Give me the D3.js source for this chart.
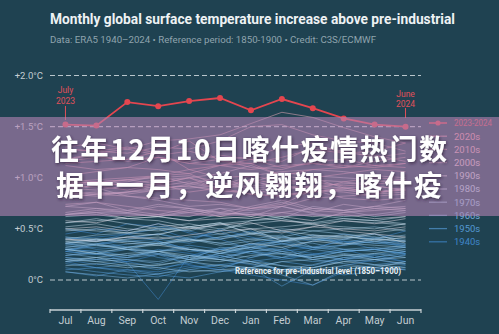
<!DOCTYPE html>
<html><head><meta charset="utf-8">
<script src="https://cdn.jsdelivr.net/npm/d3@7"></script>
<style>
html,body{margin:0;padding:0;background:#1f4251;}
svg{display:block;}
</style></head>
<body>
<svg id="chart" width="499" height="334"></svg>
<script>
// ---------- DATA ----------
const months = ["Jul","Aug","Sep","Oct","Nov","Dec","Jan","Feb","Mar","Apr","May","Jun"];
const yTicks = [0, 0.5, 1.0, 1.5, 2.0];
const yTickLabels = ["0°C","+0.5°C","+1.0°C","+1.5°C","+2.0°C"];
const dashedLevels = [0, 1.5, 2.0];
const decades = ["1940s","1950s","1960s","1970s","1980s","1990s","2000s","2010s","2020s"];

// July–June periods, °C above 1850–1900 (estimated)
const d1940s = [
 [0.42,0.38,0.45,0.50,0.40,0.48,0.35,0.42,0.38,0.45,0.40,0.48],
 [0.50,0.45,0.55,0.52,0.48,0.40,0.30,0.38,0.42,0.35,0.40,0.33],
 [0.30,0.28,0.17,-0.19,0.24,0.30,0.35,0.28,0.32,0.38,0.30,0.26],
 [0.28,0.35,0.40,0.45,0.38,0.50,0.42,0.36,0.30,0.40,0.45,0.38],
 [0.45,0.50,0.48,0.55,0.46,0.40,0.48,0.38,0.44,0.36,0.42,0.35],
 [0.40,0.42,0.45,0.38,0.30,0.22,0.28,0.20,0.25,0.30,0.22,0.18],
 [0.22,0.20,0.18,0.25,0.15,0.10,0.22,0.30,0.26,0.20,0.18,0.25],
 [0.28,0.25,0.22,0.30,0.26,0.20,0.15,0.10,0.12,0.20,0.24,0.18],
 [0.20,0.15,0.18,0.12,0.16,0.24,0.18,0.10,0.05,0.14,0.20,0.15],
 [0.18,0.12,0.10,0.08,0.14,0.10,0.05,0.00,-0.05,0.08,0.12,0.10]
];
const d1950s = [
 [0.12,0.08,0.05,0.03,0.10,0.15,0.12,0.18,0.14,0.22,0.25,0.28],
 [0.30,0.32,0.35,0.38,0.30,0.26,0.28,0.25,0.22,0.28,0.30,0.25],
 [0.28,0.25,0.30,0.22,0.18,0.26,0.32,0.35,0.30,0.34,0.38,0.32],
 [0.35,0.38,0.32,0.36,0.28,0.30,0.26,0.22,0.18,0.20,0.15,0.18],
 [0.16,0.12,0.15,0.10,0.18,0.12,0.20,0.14,0.08,0.12,0.10,0.14],
 [0.10,0.12,0.08,0.05,0.02,0.08,0.12,-0.06,0.10,0.05,0.08,0.12],
 [0.08,0.04,0.10,0.06,0.12,0.15,0.18,0.22,0.25,0.28,0.30,0.32],
 [0.32,0.35,0.38,0.40,0.36,0.42,0.45,0.48,0.40,0.38,0.36,0.34],
 [0.36,0.30,0.32,0.28,0.34,0.30,0.35,0.38,0.32,0.28,0.30,0.26],
 [0.30,0.28,0.24,0.26,0.22,0.30,0.28,0.32,0.20,0.24,0.22,0.26]
];
const d1960s = [
 [0.24,0.28,0.30,0.26,0.20,0.32,0.30,0.36,0.32,0.34,0.38,0.35],
 [0.34,0.36,0.30,0.28,0.32,0.26,0.34,0.38,0.36,0.30,0.32,0.28],
 [0.30,0.34,0.32,0.36,0.30,0.28,0.32,0.26,0.22,0.28,0.30,0.34],
 [0.36,0.40,0.42,0.45,0.40,0.36,0.32,0.28,0.20,0.16,0.12,0.10],
 [0.08,0.05,0.02,0.06,0.10,0.08,0.12,0.05,-0.05,0.10,0.14,0.16],
 [0.18,0.20,0.22,0.25,0.20,0.26,0.22,0.28,0.24,0.20,0.26,0.22],
 [0.26,0.22,0.20,0.18,0.24,0.20,0.28,0.22,0.30,0.26,0.22,0.28],
 [0.24,0.26,0.22,0.28,0.20,0.24,0.18,0.10,0.15,0.22,0.20,0.24],
 [0.22,0.18,0.20,0.16,0.24,0.22,0.28,0.30,0.38,0.40,0.36,0.38],
 [0.36,0.40,0.38,0.35,0.42,0.45,0.40,0.44,0.32,0.30,0.28,0.32]
];
const d1970s = [
 [0.30,0.26,0.24,0.28,0.22,0.20,0.18,0.14,0.12,0.18,0.15,0.12],
 [0.14,0.16,0.12,0.15,0.18,0.14,0.12,0.18,0.20,0.24,0.26,0.30],
 [0.32,0.35,0.30,0.36,0.38,0.42,0.46,0.50,0.48,0.45,0.42,0.40],
 [0.38,0.34,0.30,0.28,0.24,0.20,0.16,0.10,0.12,0.18,0.20,0.16],
 [0.18,0.22,0.16,0.14,0.20,0.18,0.24,0.26,0.22,0.25,0.20,0.22],
 [0.20,0.18,0.14,0.12,0.08,0.10,0.12,0.08,0.10,0.14,0.12,0.18],
 [0.20,0.22,0.26,0.28,0.30,0.26,0.32,0.38,0.40,0.42,0.40,0.44],
 [0.42,0.40,0.38,0.36,0.40,0.34,0.38,0.42,0.40,0.36,0.34,0.32],
 [0.30,0.26,0.32,0.34,0.40,0.36,0.40,0.38,0.44,0.42,0.40,0.38],
 [0.40,0.44,0.46,0.50,0.48,0.55,0.46,0.42,0.48,0.50,0.52,0.48]
];
const d1980s = [
 [0.50,0.48,0.46,0.44,0.52,0.48,0.58,0.60,0.54,0.52,0.50,0.55],
 [0.52,0.55,0.50,0.48,0.52,0.56,0.45,0.40,0.42,0.44,0.38,0.42],
 [0.40,0.38,0.42,0.45,0.50,0.55,0.58,0.62,0.64,0.60,0.58,0.55],
 [0.56,0.60,0.55,0.50,0.52,0.45,0.50,0.38,0.42,0.40,0.45,0.36],
 [0.38,0.40,0.36,0.34,0.30,0.28,0.36,0.32,0.38,0.35,0.40,0.38],
 [0.36,0.38,0.40,0.42,0.38,0.40,0.45,0.48,0.44,0.42,0.46,0.50],
 [0.48,0.50,0.46,0.52,0.55,0.50,0.55,0.58,0.56,0.60,0.58,0.62],
 [0.64,0.66,0.65,0.62,0.66,0.70,0.68,0.72,0.65,0.62,0.64,0.68],
 [0.62,0.64,0.60,0.58,0.52,0.56,0.50,0.52,0.55,0.58,0.56,0.54],
 [0.56,0.58,0.60,0.62,0.58,0.64,0.66,0.60,0.72,0.68,0.62,0.66]
];
const d1990s = [
 [0.64,0.68,0.66,0.72,0.70,0.66,0.64,0.62,0.58,0.66,0.68,0.70],
 [0.72,0.70,0.66,0.62,0.58,0.60,0.62,0.58,0.55,0.48,0.45,0.42],
 [0.40,0.38,0.42,0.40,0.44,0.48,0.50,0.46,0.52,0.50,0.48,0.52],
 [0.50,0.52,0.48,0.55,0.50,0.54,0.56,0.48,0.52,0.58,0.55,0.60],
 [0.58,0.56,0.62,0.64,0.70,0.66,0.72,0.78,0.70,0.68,0.72,0.70],
 [0.72,0.76,0.68,0.74,0.70,0.62,0.60,0.66,0.62,0.64,0.60,0.62],
 [0.64,0.66,0.60,0.62,0.68,0.65,0.64,0.66,0.70,0.68,0.72,0.78],
 [0.80,0.84,0.86,0.88,0.90,0.92,0.95,1.05,1.02,1.00,0.98,0.94],
 [0.92,0.90,0.82,0.78,0.72,0.74,0.70,0.76,0.68,0.66,0.70,0.68],
 [0.66,0.70,0.68,0.64,0.62,0.70,0.62,0.72,0.66,0.74,0.70,0.72]
];
const d2000s = [
 [0.74,0.76,0.72,0.68,0.66,0.62,0.70,0.72,0.80,0.82,0.84,0.86],
 [0.84,0.86,0.84,0.88,0.94,0.90,0.92,0.94,1.00,0.90,0.92,0.88],
 [0.90,0.88,0.92,0.90,0.92,0.88,0.96,0.92,0.90,0.88,0.86,0.90],
 [0.92,0.94,0.96,1.02,0.94,1.00,0.90,0.92,0.88,0.86,0.82,0.84],
 [0.82,0.84,0.86,0.92,0.96,0.90,0.98,0.88,0.92,0.94,0.96,0.98],
 [0.96,0.94,0.98,1.00,1.02,0.96,0.88,0.90,0.92,0.90,0.86,0.88],
 [0.90,0.92,0.94,0.98,1.00,1.04,1.12,1.02,0.98,0.96,0.92,0.88],
 [0.86,0.84,0.82,0.80,0.78,0.76,0.70,0.74,0.88,0.80,0.78,0.80],
 [0.84,0.82,0.86,0.90,0.92,0.86,0.88,0.84,0.86,0.88,0.84,0.90],
 [0.94,0.96,0.98,0.94,1.00,0.92,1.02,1.06,1.08,1.06,1.02,1.00]
];
const d2010s = [
 [0.98,0.96,0.92,0.94,1.00,0.88,0.84,0.82,0.86,0.90,0.86,0.88],
 [0.90,0.92,0.88,0.94,0.86,0.90,0.84,0.82,0.88,0.96,1.00,0.98],
 [0.96,0.98,1.00,1.02,1.04,0.92,0.98,0.94,0.96,0.92,0.94,0.96],
 [0.94,0.96,0.98,1.02,1.08,1.00,1.02,0.96,1.00,1.04,1.08,1.06],
 [1.02,1.06,1.10,1.08,1.04,1.12,1.08,1.12,1.14,1.10,1.16,1.20],
 [1.18,1.24,1.28,1.36,1.38,1.42,1.53,1.64,1.59,1.49,1.40,1.34],
 [1.30,1.34,1.28,1.22,1.26,1.18,1.20,1.30,1.34,1.24,1.22,1.16],
 [1.18,1.22,1.16,1.20,1.14,1.18,1.10,1.08,1.16,1.18,1.12,1.14],
 [1.12,1.08,1.10,1.20,1.16,1.22,1.18,1.16,1.30,1.26,1.20,1.24],
 [1.28,1.26,1.24,1.30,1.28,1.36,1.50,1.52,1.42,1.36,1.34,1.26]
];
const d2020s = [
 [1.28,1.26,1.30,1.24,1.36,1.16,1.14,1.02,1.08,1.10,1.12,1.10],
 [1.14,1.16,1.18,1.20,1.14,1.12,1.18,1.10,1.14,1.12,1.10,1.14],
 [1.16,1.20,1.18,1.26,1.08,1.12,1.14,1.20,1.28,1.24,1.26,1.34]
];
const recent = [1.52,1.51,1.74,1.70,1.75,1.78,1.66,1.77,1.68,1.58,1.52,1.50];
const recentLabel = "2023-2024";

const title = "Monthly global surface temperature increase above pre-industrial";
const subtitle = "Data: ERA5 1940–2024 • Reference period: 1850-1900 • Credit: C3S/ECMWF";
const refNote = "Reference for pre-industrial level (1850–1900)";
const overlayLines = ["往年12月10日喀什疫情热门数", "据十一月，逆风翱翔，喀什疫"];

// ---------- DRAW ----------
const decadeData = [d1940s,d1950s,d1960s,d1970s,d1980s,d1990s,d2000s,d2010s,d2020s];
const decadeColors = ["#3f86c9","#5499d2","#75aed9","#98c3e0","#bcd3e2","#d6d0dc","#e2bfcc","#e9a9b8","#ef97a7"];

const svg = d3.select("#chart");
svg.append("rect").attr("width",499).attr("height",334).attr("fill","#1f4251");

const x = d3.scaleBand().domain(months).range([50,421]).padding(0);
const y = d3.scaleLinear().domain([0,2]).range([280,75.5]);
const cx = m => x(m) + x.bandwidth()/2;

// Title
svg.append("text").attr("x",50).attr("y",24).text(title)
  .attr("font-family","Roboto, 'Open Sans', sans-serif").attr("font-weight",700)
  .attr("font-size",15).attr("fill","#eef2f4")
  .attr("textLength",405).attr("lengthAdjust","spacingAndGlyphs");
svg.append("text").attr("x",50).attr("y",42.5).text(subtitle)
  .attr("font-family","Roboto, sans-serif").attr("font-size",9.5).attr("fill","#8fa4ae")
  .attr("textLength",326).attr("lengthAdjust","spacingAndGlyphs");

// Y labels
svg.append("g").selectAll("text").data(yTicks).join("text")
  .attr("x",43).attr("y",d=>y(d)+3.4).attr("text-anchor","end")
  .attr("font-family","Roboto, sans-serif").attr("font-size",9.5).attr("fill","#c3cdd2")
  .text((d,i)=>yTickLabels[i]);

// Dashed lines
svg.append("g").selectAll("line").data(dashedLevels).join("line")
  .attr("x1",50).attr("x2",421).attr("y1",d=>y(d)).attr("y2",d=>y(d))
  .attr("stroke","#b9c6cc").attr("stroke-width",1.1).attr("stroke-dasharray","5,3");

// Historical lines
const line = d3.line().x((d,i)=>cx(months[i])).y(d=>y(d));
const gl = svg.append("g");
decadeData.forEach((dec,k)=>{
  gl.selectAll(null).data(dec).join("path")
    .attr("d",line).attr("fill","none")
    .attr("stroke",decadeColors[k]).attr("stroke-width",0.9).attr("stroke-opacity",0.6);
});

// Reference note
svg.append("text").attr("x",401).attr("y",274).attr("text-anchor","end").text(refNote)
  .attr("font-family","Roboto, sans-serif").attr("font-weight",700).attr("font-size",8.8)
  .attr("fill","#e8eef1").attr("textLength",166).attr("lengthAdjust","spacingAndGlyphs");

// Recent line
const red = "#e4464f";
svg.append("path").datum(recent).attr("d",line).attr("fill","none")
  .attr("stroke",red).attr("stroke-width",1.8);
svg.append("g").selectAll("circle").data(recent).join("circle")
  .attr("cx",(d,i)=>cx(months[i])).attr("cy",d=>y(d)).attr("r",3).attr("fill",red);

// Annotations
const ann = [{i:0, l1:"July", l2:"2023", t1:90, t2:101, a:106, b:120},
             {i:11, l1:"June", l2:"2024", t1:94, t2:104, a:108, b:118}];
ann.forEach(a=>{
  const xx = cx(months[a.i]);
  [[a.l1,a.t1],[a.l2,a.t2]].forEach(([t,yy])=>{
    svg.append("text").attr("x",xx).attr("y",yy+3).attr("text-anchor","middle").text(t)
      .attr("font-family","Roboto, sans-serif").attr("font-size",8.5).attr("fill","#e0505a");
  });
  svg.append("line").attr("x1",xx).attr("x2",xx).attr("y1",a.a).attr("y2",a.b)
    .attr("stroke","#e0505a").attr("stroke-width",1);
});

// X axis
const axis = svg.append("g").attr("transform","translate(0,310)");
axis.append("line").attr("x1",50).attr("x2",421).attr("stroke","#c9d2d6").attr("stroke-width",1.4);
axis.selectAll("line.tk").data(d3.range(13)).join("line").attr("class","tk")
  .attr("x1",i=>i<12?x(months[i]):x(months[11])+x.bandwidth())
  .attr("x2",i=>i<12?x(months[i]):x(months[11])+x.bandwidth())
  .attr("y1",-1).attr("y2",3).attr("stroke","#c9d2d6").attr("stroke-width",1.2);
axis.selectAll("text").data(months).join("text")
  .attr("x",d=>cx(d)).attr("y",13.5).attr("text-anchor","middle").text(d=>d)
  .attr("font-family","Roboto, sans-serif").attr("font-size",10.5).attr("fill","#c3cdd2");

// Legend
const legY0 = 123, legStep = 13.2;
const lg = svg.append("g");
lg.append("line").attr("x1",429).attr("x2",447).attr("y1",legY0).attr("y2",legY0)
  .attr("stroke",red).attr("stroke-width",1.6);
lg.append("circle").attr("cx",438).attr("cy",legY0).attr("r",2.6).attr("fill",red);
lg.append("text").attr("x",454).attr("y",legY0+3.3).text(recentLabel)
  .attr("font-family","Roboto, sans-serif").attr("font-size",9.5).attr("fill","#e0505a")
  .attr("textLength",38).attr("lengthAdjust","spacingAndGlyphs");
const decRev = decades.map((d,i)=>({d, c:decadeColors[i]})).reverse();
lg.selectAll("g.dec").data(decRev).join("g").attr("class","dec")
  .attr("transform",(d,i)=>`translate(0,${legY0+legStep*(i+1)})`)
  .each(function(d){
    const g = d3.select(this);
    g.append("line").attr("x1",429).attr("x2",447).attr("stroke",d.c).attr("stroke-width",1.3).attr("stroke-opacity",0.7);
    g.append("text").attr("x",454).attr("y",3.3).text(d.d)
      .attr("font-family","Roboto, sans-serif").attr("font-size",9.5).attr("fill",d.c);
  });

// Overlay band with text
svg.append("rect").attr("x",0).attr("y",117).attr("width",499).attr("height",99)
  .attr("fill","rgb(180,132,180)").attr("fill-opacity",0.6);
const defs = svg.append("defs");
const f = defs.append("filter").attr("id","sh").attr("x","-10%").attr("y","-30%").attr("width","120%").attr("height","160%");
f.append("feDropShadow").attr("dx",1).attr("dy",1.5).attr("stdDeviation",1.5)
  .attr("flood-color","#2a1f35").attr("flood-opacity",0.7);
const ot = [{t:overlayLines[0], y:159.5, len:396},{t:overlayLines[1], y:196, len:386}];
svg.append("g").selectAll("text").data(ot).join("text")
  .attr("x",249).attr("y",d=>d.y).attr("text-anchor","middle").text(d=>d.t)
  .attr("font-family","'Noto Sans CJK SC', sans-serif").attr("font-weight",700)
  .attr("font-size",28).attr("fill","#ffffff").attr("filter","url(#sh)")
  .attr("textLength",d=>d.len).attr("lengthAdjust","spacing");
</script>
</body></html>
